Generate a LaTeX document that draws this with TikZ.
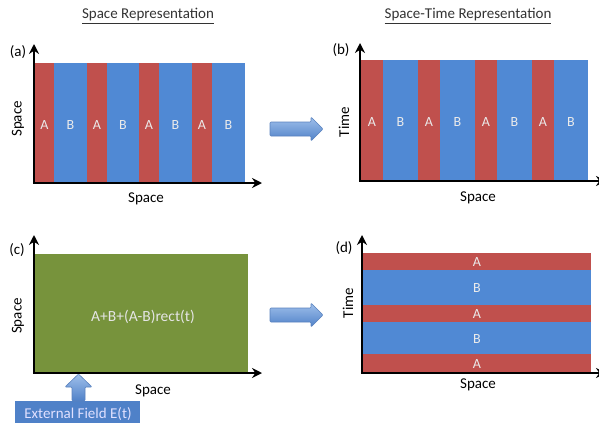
\documentclass[tikz,border=0pt]{standalone}
\usepackage{fontspec}
\setmainfont{Carlito}
\usetikzlibrary{arrows.meta}
\definecolor{cred}{RGB}{192,80,77}
\definecolor{cblue}{RGB}{80,137,212}
\definecolor{cgreen}{RGB}{119,147,60}
\definecolor{arrtop}{RGB}{160,192,235}
\definecolor{arrbot}{RGB}{79,129,200}
\definecolor{arredge}{RGB}{90,130,190}
\tikzset{
  axis/.style={line width=2.2pt,-{Stealth[length=10pt,width=10pt]}},
  lbl/.style={font=\fontsize{15}{17}\selectfont,text=black,inner sep=0pt},
  ttl/.style={font=\fontsize{15}{17}\selectfont,text=black!80,inner sep=0pt},
  strl/.style={font=\fontsize{14}{16}\selectfont,text=white!92!black,inner sep=0pt},
  blockarr/.style={top color=arrtop,bottom color=arrbot,draw=arredge,line width=0.6pt,rounded corners=1pt},
}
\begin{document}
\begin{tikzpicture}[x=1pt,y=-1pt]
\useasboundingbox (0,0) rectangle (599,423);
% titles
\node[ttl] (t1) at (148,16) {\underline{Space Representation}};
\node[ttl] (t2) at (468,16) {\underline{Space-Time Representation}};

% ---------- panel (a)
\foreach \xa/\xb/\c/\t in {35/54/cred/A,54/87/cblue/B,87/107/cred/A,107/139/cblue/B,139/159/cred/A,159/192/cblue/B,192/212/cred/A,212/245/cblue/B}{
  \fill[\c] (\xa,63) rectangle (\xb,182);
  \node[strl] at ({(\xa+\xb)/2},125) {\t};
}
\coordinate (ao) at (34,183);
\coordinate (ay) at (34,44);
\coordinate (ax) at (262,183);
\draw[axis] (ao) -- (ay);
\draw[axis] ([xshift=-1.1pt]ao) -- (ax);
\node[lbl] (la) at (18,52) {(a)};
\node[lbl,rotate=90] (lay) at (18,119) {Space};
\node[lbl] (lax) at (146,199) {Space};

% ---------- panel (b)
\foreach \xa/\xb/\c/\t in {361/383/cred/A,383/418/cblue/B,418/440/cred/A,440/475/cblue/B,475/497/cred/A,497/532/cblue/B,532/554/cred/A,554/588/cblue/B}{
  \fill[\c] (\xa,60) rectangle (\xb,181);
  \node[strl] at ({(\xa+\xb)/2},122) {\t};
}
\coordinate (bo) at (360,181);
\coordinate (by) at (360,43);
\coordinate (bx) at (606,181);
\draw[axis] (bo) -- (by);
\draw[axis] ([xshift=-1.1pt]bo) -- (bx);
\node[lbl] (lb) at (341,50) {(b)};
\node[lbl,rotate=90] (lby) at (344,122) {Time};
\node[lbl] (lbx) at (478,198) {Space};

% ---------- panel (c)
\fill[cgreen] (35,254) rectangle (248,372);
\node[font=\fontsize{15.5}{17}\selectfont,text=white!90!black,inner sep=0pt] (eq) at (143,317) {A+B+(A-B)rect(t)};
\coordinate (co) at (34,373);
\coordinate (cy) at (34,235);
\coordinate (cx) at (262,373);
\draw[axis] (co) -- (cy);
\draw[axis] ([xshift=-1.1pt]co) -- (cx);
\node[lbl] (lc) at (17,250) {(c)};
\node[lbl,rotate=90] (lcy) at (18,316) {Space};
\node[lbl] (lcx) at (153,391) {Space};

% ---------- panel (d)
\foreach \ya/\yb/\c/\t in {253/270/cred/A,270/305/cblue/B,305/322/cred/A,322/354/cblue/B,354/372/cred/A}{
  \fill[\c] (363,\ya) rectangle (591,\yb);
  \node[strl] at (477,{(\ya+\yb)/2+1}) {\t};
}
\coordinate (do) at (362,373);
\coordinate (dy) at (362,235);
\coordinate (dx) at (606,373);
\draw[axis] (do) -- (dy);
\draw[axis] ([xshift=-1.1pt]do) -- (dx);
\node[lbl] (ld) at (344,248) {(d)};
\node[lbl,rotate=90] (ldy) at (348,303) {Time};
\node[lbl] (ldx) at (478,385) {Space};

% ---------- block arrows
\draw[blockarr] (270,122) -- (311,122) -- (311,117) -- (323,129) -- (311,141) -- (311,136) -- (270,136) -- cycle;
\draw[blockarr] (270,308) -- (311,308) -- (311,303) -- (323,315) -- (311,327) -- (311,322) -- (270,322) -- cycle;

% external field
\fill[arrbot] (15,401) rectangle (140,423);
\node[font=\fontsize{15}{17}\selectfont,text=white!88!blue,inner sep=0pt] (ef) at (78,414) {External Field E(t)};
\draw[blockarr] (72,401) -- (72,387) -- (65,387) -- (78.5,374) -- (92,387) -- (85,387) -- (85,401) -- cycle;
\end{tikzpicture}
\end{document}
